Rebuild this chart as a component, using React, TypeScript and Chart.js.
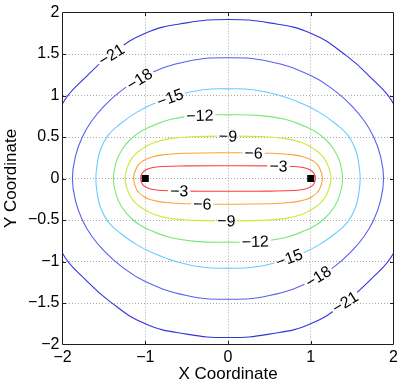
import React, { useEffect, useRef } from 'react';
import { Chart, registerables } from 'chart.js';

Chart.register(...registerables);

// Contour levels, innermost last
const levels = [-21, -18, -15, -12, -9, -6, -3];
const levelColors = ['#3434de', '#5a5ef2', '#66ccff', '#78e878', '#cceb36', '#ffa238', '#ff4040'];

// First-quadrant points of each contour (x >= 0, y >= 0),
// from the top of the contour (x = 0) to where it meets y = 0. The plot is symmetric in x and y.
const contourM21 = [[0, 1.915], [0.5, 1.875], [1.0, 1.75], [1.43, 1.48], [1.72, 1.22], [2.0, 0.9], [2.12, 0.5], [2.15, 0]];
const contourM18 = [[0, 1.455], [0.5, 1.41], [1.0, 1.24], [1.3, 1.05], [1.5, 0.87], [1.65, 0.69], [1.76, 0.5], [1.84, 0.28], [1.88, 0]];
const contourM15 = [[0, 1.08], [0.3, 1.07], [0.6, 1.01], [0.9, 0.9], [1.1, 0.8], [1.3, 0.66], [1.45, 0.52], [1.54, 0.35], [1.58, 0.18], [1.597, 0]];
const contourM12 = [[0, 0.767], [0.4, 0.757], [0.7, 0.71], [0.9, 0.64], [1.05, 0.57], [1.18, 0.47], [1.28, 0.35], [1.35, 0.2], [1.385, 0]];
const contourM9 = [[0, 0.51], [0.4, 0.505], [0.7, 0.48], [0.9, 0.43], [1.05, 0.35], [1.15, 0.26], [1.21, 0.15], [1.245, 0]];
const contourM6 = [[0, 0.31], [0.5, 0.305], [0.75, 0.29], [0.92, 0.26], [1.03, 0.21], [1.1, 0.14], [1.14, 0]];
const contourM3 = [[0, 0.154], [0.5, 0.152], [0.8, 0.145], [0.92, 0.13], [1.0, 0.1], [1.04, 0.06], [1.056, 0]];
const quadrants = [contourM21, contourM18, contourM15, contourM12, contourM9, contourM6, contourM3];

// Source points (black squares)
const sourceX = [-1, 1];
const sourceY = [0, 0];

// Inline contour labels: level, x where the label sits, and which half (1 = upper, -1 = lower)
const labelLevels = [-21, -18, -15, -12, -9, -6, -3, -3, -6, -9, -12, -15, -18, -21];
const labelXs = [-1.41, -1.07, -0.7, -0.34, 0.0, 0.31, 0.61, -0.59, -0.31, -0.02, 0.33, 0.74, 1.09, 1.415];
const labelSides = [1, 1, 1, 1, 1, 1, 1, -1, -1, -1, -1, -1, -1, -1];

const xMin = -2, xMax = 2, xStep = 1;
const yMin = -2, yMax = 2, yStep = 0.5;

const FONT_FAMILY = '"Liberation Sans", Arial, Helvetica, sans-serif';
const LABEL_FONT = `16px ${FONT_FAMILY}`;

const fmt = (v: number) => (v < 0 ? '\u2212' + String(Math.abs(v)) : String(v));

type P = { x: number; y: number };

function buildLoop(q: number[][]): P[] {
  const n = q.length;
  const pts: P[] = [];
  for (let i = 0; i < n; i++) pts.push({ x: q[i][0], y: q[i][1] });
  for (let i = n - 2; i >= 0; i--) pts.push({ x: q[i][0], y: -q[i][1] });
  for (let i = 1; i < n; i++) pts.push({ x: -q[i][0], y: -q[i][1] });
  for (let i = n - 2; i >= 1; i--) pts.push({ x: -q[i][0], y: q[i][1] });
  return pts;
}

const loops = quadrants.map(buildLoop);

function padLoop(loop: P[]): P[] {
  const m = loop.length;
  return [loop[m - 1], ...loop, loop[0], loop[1]];
}

type Placed = { px: number; py: number; ang: number; text: string; w: number };

const contourLabelPlugin = {
  id: 'contourLabels',
  beforeDatasetsDraw(chart: any) {
    const { ctx } = chart;
    const xs = chart.scales.x;
    const ys = chart.scales.y;
    chart.getSortedVisibleDatasetMetas().forEach((m: any) => {
      if (m.dataset && m.dataset.updateControlPoints) m.dataset.updateControlPoints(chart.chartArea, 'x');
    });
    ctx.save();
    ctx.font = LABEL_FONT;
    const placed: Placed[] = [];
    labelLevels.forEach((level, k) => {
      const li = levels.indexOf(level);
      const loop = loops[li];
      const lx = labelXs[k];
      const side = labelSides[k];
      for (let i = 0; i < loop.length; i++) {
        const a = loop[i];
        const b = loop[(i + 1) % loop.length];
        if (a.x === b.x) continue;
        if ((a.x - lx) * (b.x - lx) > 0) continue;
        if (Math.sign(a.y + b.y) !== side) continue;
        const t = (lx - a.x) / (b.x - a.x);
        const yy = a.y + t * (b.y - a.y);
        const px = xs.getPixelForValue(lx);
        const py = ys.getPixelForValue(yy);
        let ang = Math.atan2(
          ys.getPixelForValue(b.y) - ys.getPixelForValue(a.y),
          xs.getPixelForValue(b.x) - xs.getPixelForValue(a.x)
        );
        if (ang > Math.PI / 2) ang -= Math.PI;
        if (ang < -Math.PI / 2) ang += Math.PI;
        const text = fmt(level);
        placed.push({ px, py, ang, text, w: ctx.measureText(text).width });
        break;
      }
    });
    chart.$contourLabels = placed;
    ctx.beginPath();
    ctx.rect(0, 0, chart.width, chart.height);
    placed.forEach((p) => {
      const hw = p.w / 2 + 2;
      const hh = 7;
      const c = Math.cos(p.ang), s = Math.sin(p.ang);
      const corners = [[-hw, -hh], [hw, -hh], [hw, hh], [-hw, hh]].map(([u, v]) => [
        p.px + u * c - v * s,
        p.py + u * s + v * c,
      ]);
      ctx.moveTo(corners[0][0], corners[0][1]);
      for (let j = 1; j < 4; j++) ctx.lineTo(corners[j][0], corners[j][1]);
      ctx.closePath();
    });
    ctx.clip('evenodd');
  },
  afterDatasetsDraw(chart: any) {
    const { ctx } = chart;
    ctx.restore();
    const placed: Placed[] = chart.$contourLabels || [];
    ctx.save();
    ctx.font = LABEL_FONT;
    ctx.fillStyle = '#000';
    ctx.textAlign = 'center';
    ctx.textBaseline = 'middle';
    placed.forEach((p) => {
      ctx.save();
      ctx.translate(p.px, p.py);
      ctx.rotate(p.ang);
      ctx.fillText(p.text, 0, 1);
      ctx.restore();
    });
    ctx.restore();
  },
  afterDraw(chart: any) {
    const { ctx, chartArea: a } = chart;
    const xs = chart.scales.x;
    const ys = chart.scales.y;
    ctx.save();
    ctx.strokeStyle = '#1e1e1e';
    ctx.lineWidth = 1;
    ctx.beginPath();
    ctx.rect(a.left, a.top, a.right - a.left, a.bottom - a.top);
    ctx.stroke();
    const tl = 3.5;
    ctx.beginPath();
    xs.ticks.forEach((t: any) => {
      if (t.value <= xMin || t.value >= xMax) return;
      const px = Math.round(xs.getPixelForValue(t.value)) + 0.5;
      ctx.moveTo(px, a.bottom);
      ctx.lineTo(px, a.bottom - tl);
      ctx.moveTo(px, a.top);
      ctx.lineTo(px, a.top + tl);
    });
    ys.ticks.forEach((t: any) => {
      if (t.value <= yMin || t.value >= yMax) return;
      const py = Math.round(ys.getPixelForValue(t.value)) + 0.5;
      ctx.moveTo(a.left, py);
      ctx.lineTo(a.left + tl, py);
      ctx.moveTo(a.right, py);
      ctx.lineTo(a.right - tl, py);
    });
    ctx.stroke();
    ctx.restore();
  },
};

export default function App() {
  const canvasRef = useRef<HTMLCanvasElement | null>(null);

  useEffect(() => {
    const canvas = canvasRef.current;
    if (!canvas) return;

    const contourSets = loops.map((loop, i) => {
      const data = padLoop(loop);
      const last = data.length - 2;
      return {
        type: 'line' as const,
        label: fmt(levels[i]),
        data,
        showLine: true,
        borderColor: levelColors[i],
        borderWidth: 1.1,
        pointRadius: 0,
        pointHoverRadius: 0,
        pointHitRadius: 0,
        tension: 0.45,
        fill: false,
        segment: {
          borderColor: (c: any) =>
            c.p0DataIndex === 0 || c.p0DataIndex === last ? 'rgba(0,0,0,0)' : undefined,
        },
      };
    });

    const sourceSet = {
      type: 'scatter' as const,
      label: 'sources',
      data: sourceX.map((x, i) => ({ x, y: sourceY[i] })),
      showLine: false,
      pointStyle: 'rect',
      pointRadius: 5,
      pointBorderWidth: 0,
      backgroundColor: '#000',
      borderColor: '#000',
    };

    const chart = new Chart(canvas, {
      type: 'line',
      data: { datasets: [sourceSet as any, ...contourSets] },
      options: {
        animation: false,
        responsive: false,
        devicePixelRatio: 1,
        events: [],
        layout: { padding: { left: 0, top: 12.5, right: 8.5, bottom: 0 } },
        elements: { line: { capBezierPoints: false } },
        plugins: {
          legend: { display: false },
          tooltip: { enabled: false },
          title: { display: false },
        },
        scales: {
          x: {
            type: 'linear',
            min: xMin,
            max: xMax,
            afterFit: (s: any) => {
              s.height = 41.5;
              s.paddingLeft = 0;
              s.paddingRight = 0;
            },
            ticks: {
              stepSize: xStep,
              color: '#000',
              padding: 3,
              maxRotation: 0,
              font: { family: FONT_FAMILY, size: 16 },
              callback: (v: any) => fmt(Number(v)),
            },
            grid: { color: '#a8a8a8', lineWidth: 1, drawTicks: false, borderDash: [1, 2] } as any,
            border: { display: false, dash: [1, 2] },
            title: {
              display: true,
              text: 'X Coordinate',
              color: '#000',
              font: { family: FONT_FAMILY, size: 17 },
              padding: { top: 0, bottom: 1.8 },
            },
          },
          y: {
            type: 'linear',
            min: yMin,
            max: yMax,
            afterFit: (s: any) => {
              s.width = 62.5;
              s.paddingTop = 0;
              s.paddingBottom = 0;
            },
            ticks: {
              stepSize: yStep,
              color: '#000',
              padding: 3,
              font: { family: FONT_FAMILY, size: 16 },
              callback: (v: any) => fmt(Number(v)),
            },
            grid: { color: '#a8a8a8', lineWidth: 1, drawTicks: false, borderDash: [1, 2] } as any,
            border: { display: false, dash: [1, 2] },
            title: {
              display: true,
              text: 'Y Coordinate',
              color: '#000',
              font: { family: FONT_FAMILY, size: 17 },
              padding: { top: 1.5, bottom: 0 },
            },
          },
        },
      },
      plugins: [contourLabelPlugin],
    });

    return () => chart.destroy();
  }, []);

  return (
    <div style={{ position: 'absolute', left: 0, top: 0, width: 402, height: 386, background: '#fff' }}>
      <canvas ref={canvasRef} width={402} height={386} style={{ display: 'block', width: 402, height: 386 }} />
    </div>
  );
}
